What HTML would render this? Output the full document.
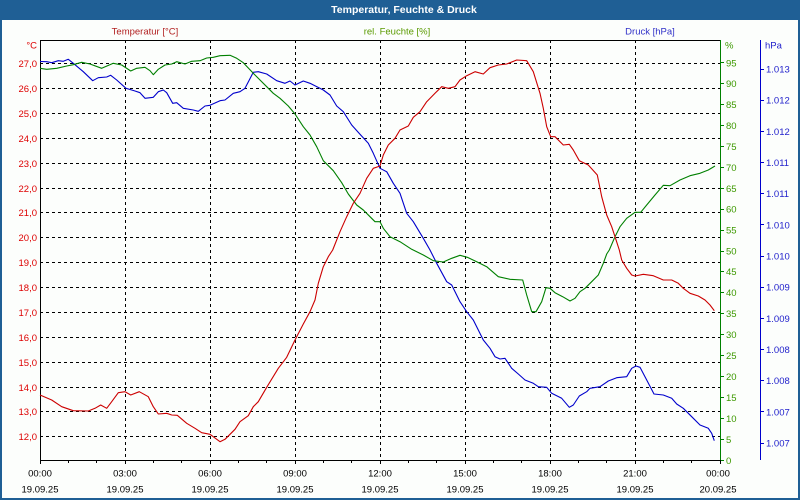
<!DOCTYPE html>
<html><head><meta charset="utf-8"><style>
html,body{margin:0;padding:0;background:#fcfefc;}
svg{display:block;}
text{font-family:"Liberation Sans",sans-serif;font-size:9.5px;}
</style></head><body>
<svg width="800" height="500" viewBox="0 0 800 500" xmlns="http://www.w3.org/2000/svg">
<rect x="0" y="0" width="800" height="500" fill="#fcfefc"/>
<rect x="1" y="1" width="798" height="498" fill="none" stroke="#1f5f95" stroke-width="2"/>
<rect x="0" y="0" width="800" height="20" fill="#1f5f95"/>
<text x="404" y="13" text-anchor="middle" fill="#ffffff" font-weight="bold" style="font-size:10.5px">Temperatur, Feuchte &amp; Druck</text>

<text x="145" y="34.5" text-anchor="middle" fill="#b22222">Temperatur [°C]</text>
<text x="397" y="34.5" text-anchor="middle" fill="#5a9a00">rel. Feuchte [%]</text>
<text x="650" y="34.5" text-anchor="middle" fill="#3030c8">Druck [hPa]</text>

<!-- grid -->
<g stroke="#000" stroke-width="1" stroke-dasharray="3,3" fill="none">
<path d="M40 63.5H720M40 88.5H720M40 113.5H720M40 138.5H720M40 163.5H720M40 188.5H720M40 212.5H720M40 237.5H720M40 262.5H720M40 287.5H720M40 312.5H720M40 337.5H720M40 362.5H720M40 387.5H720M40 411.5H720M40 436.5H720"/>
<path d="M125.5 40V460M210.5 40V460M295.5 40V460M380.5 40V460M465.5 40V460M550.5 40V460M635.5 40V460"/>
</g>

<!-- axes -->
<path d="M40.5 40V460.5M40 40.5H720M40 460.5H721" stroke="#000" stroke-width="1" fill="none"/>
<path d="M720.5 40V461" stroke="#008000" stroke-width="1"/>
<path d="M760.5 40V460" stroke="#0000cc" stroke-width="1"/>

<!-- bottom ticks -->
<g stroke="#000" stroke-width="1">
<path d="M40.5 460V464M68.5 460V463M96.5 460V463M125.5 460V464M153.5 460V463M181.5 460V463M210.5 460V464M238.5 460V463M266.5 460V463M295.5 460V464M323.5 460V463M351.5 460V463M380.5 460V464M408.5 460V463M436.5 460V463M465.5 460V464M493.5 460V463M521.5 460V463M550.5 460V464M578.5 460V463M606.5 460V463M635.5 460V464M663.5 460V463M691.5 460V463M720.5 460V464"/>
</g>

<!-- temp labels -->
<g fill="#dd0000" text-anchor="end">
<text x="37" y="48.5">°C</text>
<text x="37" y="67">27,0</text>
<text x="37" y="92">26,0</text>
<text x="37" y="117">25,0</text>
<text x="37" y="142">24,0</text>
<text x="37" y="167">23,0</text>
<text x="37" y="192">22,0</text>
<text x="37" y="216">21,0</text>
<text x="37" y="241">20,0</text>
<text x="37" y="266">19,0</text>
<text x="37" y="291">18,0</text>
<text x="37" y="316">17,0</text>
<text x="37" y="341">16,0</text>
<text x="37" y="366">15,0</text>
<text x="37" y="391">14,0</text>
<text x="37" y="415">13,0</text>
<text x="37" y="440">12,0</text>
</g>

<!-- humidity ticks & labels -->
<g stroke="#008000" stroke-width="1">
<path d="M721 460.5H724M721 439.5H724M721 418.5H724M721 397.5H724M721 376.5H724M721 355.5H724M721 334.5H724M721 313.5H724M721 292.5H724M721 271.5H724M721 251.5H724M721 230.5H724M721 209.5H724M721 188.5H724M721 167.5H724M721 146.5H724M721 125.5H724M721 104.5H724M721 83.5H724M721 62.5H724"/>
</g>
<g fill="#3d9900">
<text x="725" y="48.5">%</text>
<text x="726" y="464">0</text>
<text x="726" y="443">5</text>
<text x="726" y="422">10</text>
<text x="726" y="401">15</text>
<text x="726" y="380">20</text>
<text x="726" y="359">25</text>
<text x="726" y="338">30</text>
<text x="726" y="317">35</text>
<text x="726" y="296">40</text>
<text x="726" y="275">45</text>
<text x="726" y="254.5">50</text>
<text x="726" y="233.5">55</text>
<text x="726" y="212.5">60</text>
<text x="726" y="192">65</text>
<text x="726" y="171">70</text>
<text x="726" y="150">75</text>
<text x="726" y="129">80</text>
<text x="726" y="108">85</text>
<text x="726" y="87">90</text>
<text x="726" y="66.5">95</text>
</g>

<!-- pressure ticks & labels -->
<g stroke="#0000cc" stroke-width="1">
<path d="M761 69.5H764M761 100.5H764M761 131.5H764M761 162.5H764M761 193.5H764M761 224.5H764M761 256.5H764M761 287.5H764M761 318.5H764M761 349.5H764M761 380.5H764M761 411.5H764M761 443.5H764"/>
</g>
<g fill="#2222cc">
<text x="765" y="48.5">hPa</text>
<text x="766" y="72.5">1.013</text>
<text x="766" y="103.7">1.012</text>
<text x="766" y="134.8">1.012</text>
<text x="766" y="166">1.011</text>
<text x="766" y="197.2">1.011</text>
<text x="766" y="228.3">1.010</text>
<text x="766" y="259.5">1.010</text>
<text x="766" y="290.7">1.009</text>
<text x="766" y="321.9">1.009</text>
<text x="766" y="353">1.008</text>
<text x="766" y="384.2">1.008</text>
<text x="766" y="415.4">1.007</text>
<text x="766" y="446.5">1.007</text>
</g>

<!-- time labels -->
<g fill="#000" text-anchor="middle">
<text x="40" y="476.5">00:00</text><text x="40" y="492.5">19.09.25</text>
<text x="125" y="476.5">03:00</text><text x="125" y="492.5">19.09.25</text>
<text x="210" y="476.5">06:00</text><text x="210" y="492.5">19.09.25</text>
<text x="295" y="476.5">09:00</text><text x="295" y="492.5">19.09.25</text>
<text x="380" y="476.5">12:00</text><text x="380" y="492.5">19.09.25</text>
<text x="465" y="476.5">15:00</text><text x="465" y="492.5">19.09.25</text>
<text x="550" y="476.5">18:00</text><text x="550" y="492.5">19.09.25</text>
<text x="635" y="476.5">21:00</text><text x="635" y="492.5">19.09.25</text>
<text x="718" y="476.5">00:00</text><text x="718" y="492.5">20.09.25</text>
</g>

<!-- series -->
<g fill="none" stroke-width="1.1" stroke-linejoin="round">
<polyline stroke="#0000cc" points="40,61.5 46.7,61.7 51.7,62.7 58.3,60.7 63.3,61.3 68.3,59.3 73.3,63.3 83.3,71.7 92.7,80.7 98.3,77.7 106.7,77 110.7,75.3 116.7,80 126,88.3 135,91 140,92.7 145,98.3 153.3,97.3 158.3,91.7 163.3,90 166.7,92.7 172.7,103.3 176.7,102.7 183.3,108.3 193.3,110 198.3,111.3 205,106 210,105.3 220,100.7 225,100 233.3,93.3 240,91.7 245,88.3 249.3,80 253.3,72.3 258.3,71.7 266.7,74 276.7,80.7 285,83.3 290,81 295,85 303.3,81 310,83.3 323.3,90 330,95 336.7,106 343.3,111.7 351.7,125 360,134.3 368.3,143.3 373.3,153.3 380,168.3 386.7,171.7 393.3,183.3 400,193.3 406.7,213.3 413.3,221.7 423.3,238.3 430,250 436.7,263.3 446.7,281.7 451.7,285 460,301.7 466.7,311.7 473.3,320 483.3,340 490,348.3 495,356.7 500,359 505,358.3 511.7,368.3 518.3,374 525,380 533.3,383.3 538.3,386.7 546.7,387.3 551.7,393.3 561.7,398.3 569.3,407.3 573.3,405 579.3,396 586.7,391.7 590,388.3 600,386.7 608.3,381 616.7,377.7 626.7,376.7 631.7,368.3 636,366 640,367.3 646.7,380 654,394 663.3,395 671.7,398.3 676.7,404 683.3,408.3 691.7,416.7 700,425 708.3,428.3 711.7,433.3 714.3,440.7"/>
<polyline stroke="#008000" points="40,68.3 46.7,69.3 56.7,68.3 66.7,66 73.3,64.7 81.7,62.3 90,64 101.7,68.3 113.3,63.3 121.7,65 130.7,71 136.7,68.3 145,67.3 150,70.7 153.3,74.7 158.3,69.3 165,65 171.7,64 176.7,61.7 185,64 191.7,61.3 200,60.7 206.7,58 213.3,57.3 220,55.7 230,55.3 236.7,58.3 243.3,62.7 253.3,73.3 260,80 266.7,86.7 273.3,93.3 280,98.3 288.3,106 295,114 303.3,126.7 310,135 316.7,146.7 323.3,160.7 333.3,170.7 341.7,182.7 348.3,194 356.7,205 363.3,210 370,216.7 375,221.7 380,221.7 383.3,228.3 390,236.7 400,241.7 411.7,249.3 423.3,255 433.3,260.7 443.3,262 451.7,258.3 460,255.3 467.3,257.3 476.7,261.7 486.7,266.7 498.3,276.7 510,279.3 522.7,280 526.7,295 531.7,311.7 536,311.7 541.7,301.7 546,287.7 550,288.3 555,292.7 562.7,296.7 570,301 575,298.3 580,291.7 585,288.3 591.7,281.7 598.3,275 603.3,263.3 606.7,254 609.3,250 615,236.7 620,226.7 626.7,218.3 635,212.3 640.7,212.3 646.7,205 655,195 663.3,185.3 670,185.7 680,180 690,175.7 700,173.3 708.3,170 715,166"/>
<polyline stroke="#cc0000" points="40,395 51.7,400 61.7,406.7 73.3,410.7 88.3,411 95,408.3 100.7,405 106.7,408.3 111.7,401.7 118.3,392.7 125,391.7 130.7,395 139.3,391.7 148.3,396.7 153.3,406.7 158.3,414 166.7,413.3 171.7,415 177.3,415.3 186.7,423.3 195,428.3 201.7,432.7 210,434.3 220,441.7 225,439.3 235,429.3 240,421.7 248.3,415.7 253.3,406.7 258.3,401.7 266.7,387.3 278.3,368.3 286.7,357.3 295,340 303.3,324 310,311.7 315,300 318.3,283.3 323.3,266.7 328.3,256.7 332.7,250 340,231.7 346.7,216.7 353.3,203.3 360,193.3 366.7,178.3 373.3,168.3 380,166 383.3,155 388.3,145 395,138.3 400,130 408.3,126 413.3,117.3 420,111.7 426.7,101.7 435,93.3 441.7,86.7 448.3,88.3 455,86.7 460,80 466.7,75.7 475,71.7 483.3,74 490,67.7 498.3,65 506.7,64 516.7,60 526.7,60.7 533.3,71.7 540,93.3 543.3,108.3 546.7,126.7 550.7,136.7 555,136.7 563.3,145 569.3,144.3 573.3,150 579.3,160.7 588.3,165 597.3,175 601.7,196.7 606.7,215 611.7,226.7 615,236.7 619.3,250 621.7,260 626.7,268.3 631.7,275 635,276 643.3,274.3 653.3,275.7 663.3,280 671.7,280 678.3,283.3 683.3,288.3 690,293.3 698.3,296 705,300 710,305 714.3,310.7"/>
</g>
</svg>
</body></html>
